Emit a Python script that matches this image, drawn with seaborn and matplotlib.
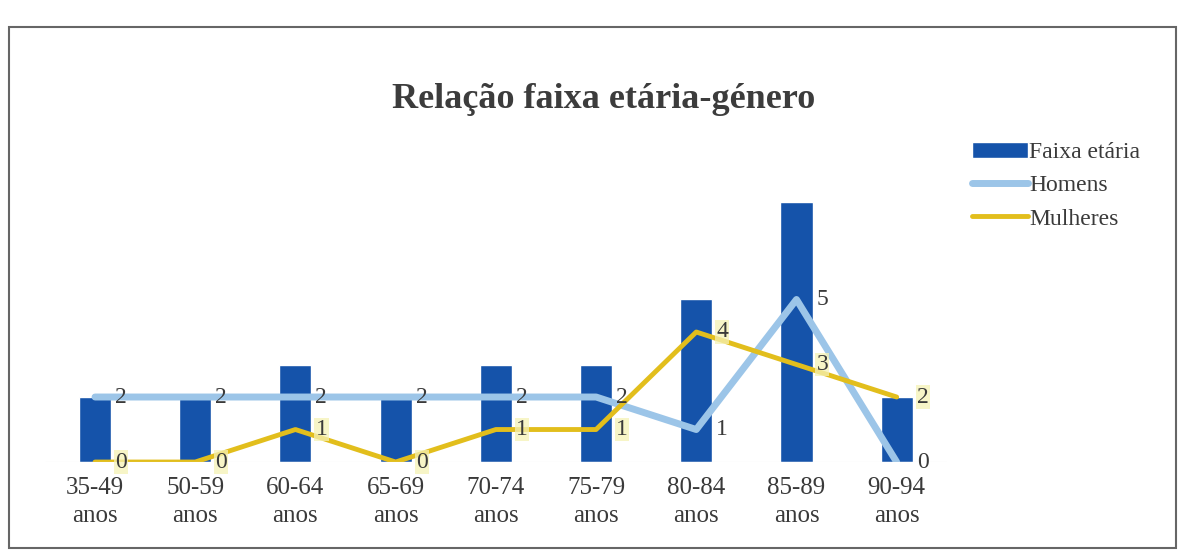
import numpy as np
import pandas as pd
import seaborn as sns
import matplotlib.pyplot as plt
from matplotlib.patches import Rectangle

faixas = ['35-49\nanos', '50-59\nanos', '60-64\nanos', '65-69\nanos', '70-74\nanos',
          '75-79\nanos', '80-84\nanos', '85-89\nanos', '90-94\nanos']
faixa_etaria = [2, 2, 3, 2, 3, 3, 5, 8, 2]
homens = [2, 2, 2, 2, 2, 2, 1, 5, 0]
mulheres = [0, 0, 1, 0, 1, 1, 4, 3, 2]

bar_color = '#1553AA'
homens_color = '#9CC5E8'
mulheres_color = '#E2BE1C'
text_color = '#3a3a3a'

sns.set_theme(style='white')
plt.rcParams['font.family'] = ['Liberation Serif', 'DejaVu Serif']

df = pd.DataFrame({'faixa': faixas, 'total': faixa_etaria,
                   'homens': homens, 'mulheres': mulheres, 'pos': np.arange(len(faixas))})

fig = plt.figure(figsize=(11.82, 5.52), dpi=100)
ax = fig.add_axes([0.038, 0.163, 0.763, 0.53])

sns.barplot(data=df, x='faixa', y='total', color=bar_color, width=0.32,
            saturation=1, ax=ax, label='Faixa etária')
sns.lineplot(data=df, x='pos', y='homens', color=homens_color, linewidth=5,
             ax=ax, label='Homens')
sns.lineplot(data=df, x='pos', y='mulheres', color=mulheres_color, linewidth=3.5,
             ax=ax, label='Mulheres')

for i, (h, m) in enumerate(zip(homens, mulheres)):
    ax.text(i + 0.2, h, str(h), fontsize=17, color=text_color, va='center', ha='left')
    ax.text(i + 0.2, m, str(m), fontsize=17, color=text_color, va='center', ha='left',
            bbox=dict(boxstyle='square,pad=0.05', fc='#f5f2b5', ec='none', alpha=0.75))

ax.set_xlim(-0.5, 8.5)
ax.set_ylim(0, 9)
ax.set_xlabel('')
ax.set_ylabel('')
ax.set_yticks([])
ax.tick_params(axis='x', length=0, labelsize=18, labelcolor=text_color, pad=11)
for lbl in ax.get_xticklabels():
    lbl.set_linespacing(1.35)
for s in ax.spines.values():
    s.set_visible(False)
ax.axhline(0, color='#ececec', linewidth=0.8)

handles, labels = ax.get_legend_handles_labels()
order = [labels.index(l) for l in ['Faixa etária', 'Homens', 'Mulheres']]
ax.legend([handles[k] for k in order], [labels[k] for k in order],
          loc='upper left', bbox_to_anchor=(0.812, 0.765), bbox_transform=fig.transFigure,
          frameon=False, borderpad=0, fontsize=17, handlelength=2.4,
          handletextpad=0.05, labelspacing=0.5, labelcolor=text_color)

fig.text(0.511, 0.82, 'Relação faixa etária-género', ha='center', va='center',
         fontsize=26, fontweight='bold', color='#3c3c3c')

fig.patches.append(Rectangle((0.008, 0.008), 0.987, 0.943, transform=fig.transFigure,
                             fill=False, edgecolor='#666666', linewidth=1.5))

fig.savefig('out.png', dpi=100)
